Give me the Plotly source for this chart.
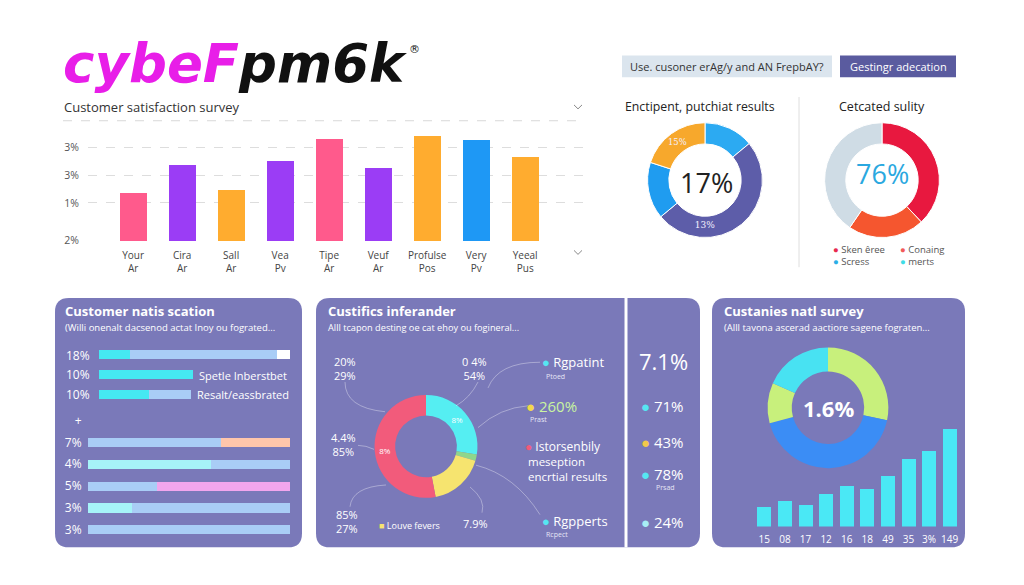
import plotly.graph_objects as go

W, H = 1024, 585


def fx(x):
    return x / W


def fy(y):
    return 1 - y / H


FONT = "Open Sans"

# ---------------- data ----------------
logo_pink = "cybeF"
logo_black = "pm6k"

survey_title = "Customer satisfaction survey"
survey_cats = ["Your", "Cira", "Sall", "Vea", "Tipe", "Veuf", "Profulse", "Very", "Yeeal"]
survey_sub = ["Ar", "Ar", "Ar", "Pv", "Ar", "Ar", "Pos", "Pv", "Pus"]
survey_vals = [48, 77, 51, 81, 103, 74, 106, 102, 85]
survey_colors = ["#ff5a8c", "#9b3df5", "#ffac2f", "#9b3df5", "#ff5a8c",
                 "#9b3df5", "#ffac2f", "#1e98f5", "#ffac2f"]
survey_ytick_vals = [0, 38, 66, 94]
survey_ytick_text = ["2%", "1%", "3%", "3%"]

button_left = "Use. cusoner erAg/y and AN FrepbAY?"
button_right = "Gestingr adecation"

donut1_title = "Enctipent, putchiat results"
donut1_vals = [14, 50, 16, 20]
donut1_colors = ["#2caaf2", "#5d5da9", "#1f9cf0", "#f7a82c"]
donut1_text = ["", "13%", "", "15%"]
donut1_center = "17%"

donut2_title = "Cetcated sulity"
donut2_vals = [38, 21.5, 40.5]
donut2_colors = ["#e8183f", "#f5562f", "#cfdce5"]
donut2_center = "76%"
donut2_legend = ["Sken êree", "Conaing", "Scress", "merts"]
donut2_legend_colors = ["#e8294f", "#f25a5a", "#2aaee6", "#3fdce6"]

p1_title = "Customer natis scation"
p1_sub = "(Willi onenalt dacsenod actat Inoy ou fograted..."
p1_top_rows = ["18%", "10%", "10%"]
p1_top_a = [16, 49, 26]
p1_top_b = [77, 0, 22]
p1_top_c = [7, 0, 0]
p1_top_notes = ["", "Spetle Inberstbet", "Resalt/eassbrated"]
p1_bot_rows = ["+", "7%", "4%", "5%", "3%", "3%"]
p1_bot_a = [66, 61, 34, 22, 100]
p1_bot_b = [34, 39, 66, 78, 0]
p1_bot_a_colors = ["#a9cdf6", "#a6f3f8", "#a9cdf6", "#a6f3f8", "#a9cdf6"]
p1_bot_b_colors = ["#ffc6ab", "#a9cdf6", "#f2a6ee", "#a9cdf6", "#a9cdf6"]

p2_title = "Custifics inferander"
p2_sub = "Alll tcapon desting oe cat ehoy ou fogineral..."
donut3_vals = [27.5, 2, 17.5, 53]
donut3_colors = ["#55eef2", "#8fd68c", "#f6e46f", "#f25b7b"]
donut3_text = ["8%", " ", " ", "8%"]
p2_callouts = ["20%<br>29%", "0 4%<br>54%", "4.4%<br>85%", "85%<br>27%", "7.9%"]
p2_small_legend = "Louve fevers"
p2_legend_labels = ["Rgpatint", "260%", "Istorsenbily", "Rgpperts"]
p2_legend_colors = ["#55e6f2", "#f2d94a", "#f25b7b", "#55e6f2"]
p2_legend_sub = ["Ptoed", "Prast", "", "Rcpect"]
p2_legend_extra = ["meseption", "encrtial results"]
p2_side_big = "7.1%"
p2_side_vals = ["71%", "43%", "78%", "24%"]
p2_side_colors = ["#55e6f2", "#f2c94a", "#55e6f2", "#a8eef5"]
p2_side_sub = ["", "", "Prsad", ""]

p3_title = "Custanies natl survey"
p3_sub = "(Alll tavona ascerad aactiore sagene fograten..."
donut4_vals = [28.3, 42.5, 10.8, 18.3]
donut4_colors = ["#c8f07c", "#3b8df5", "#c8f07c", "#48e2f2"]
donut4_center = "1.6%"
p3_bar_labels = ["15", "08", "17", "12", "16", "18", "49", "35", "3%", "149"]
p3_bar_vals = [20, 26, 22, 33, 41, 38, 52, 69, 77, 99]

PANEL = "#7a79b9"

# ---------------- figure ----------------
fig = go.Figure()

# top bar chart
fig.add_trace(go.Bar(
    x=survey_cats, y=survey_vals, marker=dict(color=survey_colors, line=dict(width=0)),
    width=0.55, xaxis="x", yaxis="y", hoverinfo="skip"))

# panel 1 top rows
top_ids = ["t0", "t1", "t2"]
for vals, col in [(p1_top_a, "#45e8f2"), (p1_top_b, "#a9cdf6"), (p1_top_c, "#ffffff")]:
    fig.add_trace(go.Bar(x=vals, y=top_ids, orientation="h", width=0.45,
                         marker=dict(color=col, line=dict(width=0)),
                         xaxis="x2", yaxis="y2", hoverinfo="skip"))

# panel 1 bottom rows
bot_ids = ["b0", "b1", "b2", "b3", "b4", "b5"]
fig.add_trace(go.Bar(x=p1_bot_a, y=bot_ids[1:], orientation="h", width=0.42,
                     marker=dict(color=p1_bot_a_colors, line=dict(width=0)),
                     xaxis="x3", yaxis="y3", hoverinfo="skip"))
fig.add_trace(go.Bar(x=p1_bot_b, y=bot_ids[1:], orientation="h", width=0.42,
                     marker=dict(color=p1_bot_b_colors, line=dict(width=0)),
                     xaxis="x3", yaxis="y3", hoverinfo="skip"))

# panel 3 bars
fig.add_trace(go.Bar(x=p3_bar_labels, y=p3_bar_vals, width=0.68,
                     marker=dict(color="#4ae8f5", line=dict(width=0)),
                     xaxis="x4", yaxis="y4", hoverinfo="skip"))


def dom(cx, cy, r):
    return dict(x=[fx(cx - r), fx(cx + r)], y=[fy(cy + r), fy(cy - r)])


fig.add_trace(go.Pie(values=donut1_vals, marker=dict(colors=donut1_colors, line=dict(color="white", width=1)),
                     hole=0.63, sort=False, direction="clockwise", rotation=0,
                     text=donut1_text, textinfo="text", textposition="inside",
                     insidetextorientation="horizontal",
                     textfont=dict(size=9, color="#f4f0ff", family="DejaVu Serif"),
                     domain=dom(705, 182, 58), hoverinfo="skip", showlegend=False))
fig.add_trace(go.Pie(values=donut2_vals, marker=dict(colors=donut2_colors, line=dict(color="white", width=1)),
                     hole=0.63, sort=False, direction="clockwise", rotation=0,
                     textinfo="none", domain=dom(882, 182, 58), hoverinfo="skip", showlegend=False))
fig.add_trace(go.Pie(values=donut3_vals, marker=dict(colors=donut3_colors, line=dict(width=0)),
                     hole=0.6, sort=False, direction="clockwise", rotation=0,
                     text=donut3_text, textinfo="text", textposition="inside",
                     insidetextorientation="horizontal",
                     textfont=dict(size=8, color="#ffffff", family=FONT),
                     domain=dom(426, 451, 52), hoverinfo="skip", showlegend=False))
fig.add_trace(go.Pie(values=donut4_vals, marker=dict(colors=donut4_colors, line=dict(width=0)),
                     hole=0.6, sort=False, direction="clockwise", rotation=0,
                     textinfo="none", domain=dom(828, 412, 61), hoverinfo="skip", showlegend=False))

# ---------------- shapes ----------------
shapes = []


def rrect(x0, y0, x1, y1, r, color):
    rx, ry = r / W, r / H
    X0, X1, Yt, Yb = fx(x0), fx(x1), fy(y0), fy(y1)
    path = (f"M {X0+rx},{Yt} L {X1-rx},{Yt} Q {X1},{Yt} {X1},{Yt-ry} "
            f"L {X1},{Yb+ry} Q {X1},{Yb} {X1-rx},{Yb} L {X0+rx},{Yb} Q {X0},{Yb} {X0},{Yb+ry} "
            f"L {X0},{Yt-ry} Q {X0},{Yt} {X0+rx},{Yt} Z")
    shapes.append(dict(type="path", path=path, xref="paper", yref="paper",
                       fillcolor=color, line=dict(width=0), layer="below"))


def rect(x0, y0, x1, y1, color):
    shapes.append(dict(type="rect", xref="paper", yref="paper", x0=fx(x0), x1=fx(x1),
                       y0=fy(y1), y1=fy(y0), fillcolor=color, line=dict(width=0), layer="below"))


def line(x0, y0, x1, y1, color, width=1, dash="solid"):
    shapes.append(dict(type="line", xref="paper", yref="paper", x0=fx(x0), x1=fx(x1),
                       y0=fy(y0), y1=fy(y1), line=dict(color=color, width=width, dash=dash)))


def curve(pts, color="rgba(255,255,255,0.35)"):
    (ax, ay), (bx, by), (cx, cy) = pts
    shapes.append(dict(type="path", xref="paper", yref="paper",
                       path=f"M {fx(ax)},{fy(ay)} Q {fx(bx)},{fy(by)} {fx(cx)},{fy(cy)}",
                       line=dict(color=color, width=1)))


def chevron(x, y):
    shapes.append(dict(type="path", xref="paper", yref="paper",
                       path=f"M {fx(x-4)},{fy(y-2)} L {fx(x)},{fy(y+2)} L {fx(x+4)},{fy(y-2)}",
                       line=dict(color="#888", width=1)))


rrect(55, 301, 302, 553, 14, PANEL)
rrect(316, 301, 700, 553, 14, PANEL)
rrect(712, 301, 965, 553, 14, PANEL)
line(626, 301, 626, 553, "white", 3)

rect(622, 56, 832, 78, "#dbe5ee")
rect(840, 56, 956, 78, "#5a5b9f")
line(799, 98, 799, 270, "#dedede", 1)
line(63, 122, 585, 122, "#d8d8d8", 1, "dash")
chevron(578, 108)
chevron(578, 255)

curve([(345, 386), (345, 412), (385, 416)])
curve([(478, 386), (470, 402), (456, 410)])
curve([(540, 366), (498, 366), (488, 392)])
curve([(528, 410), (500, 412), (478, 432)])
curve([(358, 450), (366, 450), (374, 454)])
curve([(350, 512), (352, 492), (386, 490)])
curve([(470, 492), (486, 505), (482, 518)])
curve([(476, 470), (515, 480), (540, 520)])

# ---------------- annotations ----------------
anns = []


def ann(text, x, y, size, color, xanchor="left", family=FONT, yanchor="middle", **kw):
    anns.append(dict(text=text, x=fx(x), y=fy(y), xref="paper", yref="paper",
                     xanchor=xanchor, yanchor=yanchor, showarrow=False, borderpad=0,
                     font=dict(size=size, color=color, family=family), **kw))


def dot(color, label):
    return f"<span style='color:{color}'>●</span> {label}"


ann(f"<b><i><span style='color:#e81ee8'>{logo_pink}</span>{logo_black}</i></b>",
    62, 64, 53, "#111111", family="DejaVu Sans")
ann("®", 414, 50, 11, "#111111", xanchor="center", family="DejaVu Sans")
ann(survey_title, 63, 108, 13, "#333333")
ann(button_left, 727, 67, 11, "#333333", xanchor="center")
ann(button_right, 898, 67, 11, "#ffffff", xanchor="center")
ann(donut1_title, 700, 108, 12.3, "#222222", xanchor="center")
ann(donut2_title, 882, 108, 12.5, "#222222", xanchor="center")
ann(donut1_center, 706, 184, 27, "#222222", xanchor="center")
ann(donut2_center, 882, 175, 27, "#2aa8e0", xanchor="center")
for i, (lab, col) in enumerate(zip(donut2_legend, donut2_legend_colors)):
    ann(dot(col, lab), 832 + 67 * (i % 2), 252 + 12 * (i // 2), 9.5, "#555555")

ann(f"<b>{p1_title}</b>", 64, 314, 13, "#ffffff")
ann(p1_sub, 64, 331, 9.5, "#ffffff")
for i, note in enumerate(p1_top_notes):
    if note:
        ann(note, 0, 0, 11, "#ffffff")
        anns[-1].update(xref="x2", yref="y2", x=p1_top_a[i] + p1_top_b[i] + 3, y=i)

ann(f"<b>{p2_title}</b>", 327, 314, 13, "#ffffff")
ann(p2_sub, 327, 331, 9.2, "#ffffff")
callout_pos = [(345, 372), (474, 372), (343, 449), (347, 527), (475, 529)]
for t, (x, y) in zip(p2_callouts, callout_pos):
    ann(t, x, y, 11, "#ffffff", xanchor="center")
ann(f"<span style='color:#f6e46f'>■</span> {p2_small_legend}", 378, 531, 9, "#ffffff")
leg_pos = [(541, 366), (525, 410), (524, 451), (541, 526)]
leg_txt_col = ["#ffffff", "#c9f5a0", "#ffffff", "#ffffff"]
leg_size = [13, 15, 12, 13]
for lab, col, tc, sz, sub, (x, y) in zip(p2_legend_labels, p2_legend_colors, leg_txt_col,
                                        leg_size, p2_legend_sub, leg_pos):
    ann(dot(col, lab), x, y, sz, tc)
    if sub:
        ann(sub, x + 4, y + 14, 7, "#e6e6f5")
ann(p2_legend_extra[0], 527, 466, 11.5, "#ffffff")
ann(p2_legend_extra[1], 527, 481, 11.5, "#ffffff")

ann(p2_side_big, 663, 365, 22, "#ffffff", xanchor="center")
side_y = [410, 447, 479, 527]
for v, col, sub, y in zip(p2_side_vals, p2_side_colors, p2_side_sub, side_y):
    ann(dot(col, v), 640, y, 15, "#ffffff")
    if sub:
        ann(sub, 655, y + 14, 7, "#e6e6f5")

ann(f"<b>{p3_title}</b>", 723, 314, 13, "#ffffff")
ann(p3_sub, 723, 331, 9.5, "#ffffff")
ann(f"<b>{donut4_center}</b>", 828, 412, 22, "#ffffff", xanchor="center")

# ---------------- layout ----------------
hidden = dict(showgrid=False, zeroline=False, showline=False, showticklabels=False, fixedrange=True)

fig.update_layout(
    width=W, height=H, margin=dict(l=0, r=0, t=0, b=0),
    paper_bgcolor="white", plot_bgcolor="rgba(0,0,0,0)",
    showlegend=False, barmode="stack", bargap=0,
    font=dict(family=FONT),
    shapes=shapes, annotations=anns,
    xaxis=dict(domain=[fx(88), fx(585)], anchor="y", type="category",
               range=[-0.92, 9.22], tickvals=survey_cats,
               ticktext=[f"{c}<br>{s}" for c, s in zip(survey_cats, survey_sub)],
               tickfont=dict(size=10, color="#444444"), showgrid=False, zeroline=False,
               showline=False, ticks="outside", ticklen=5, tickcolor="rgba(0,0,0,0)",
               fixedrange=True),
    yaxis=dict(domain=[fy(244), fy(128)], anchor="x", range=[-1, 115],
               tickvals=survey_ytick_vals, ticktext=survey_ytick_text,
               tickfont=dict(size=10.5, color="#555555"), showgrid=True,
               gridcolor="#dddddd", griddash="dash", gridwidth=1, zeroline=False,
               showline=False, ticks="outside", ticklen=6, tickcolor="rgba(0,0,0,0)",
               fixedrange=True),
    xaxis2=dict(domain=[fx(99), fx(290)], anchor="y2", range=[0, 100], **hidden),
    yaxis2=dict(domain=[fy(409), fy(349)], anchor="x2", type="category",
                categoryorder="array", categoryarray=top_ids, range=[2.5, -0.5],
                tickvals=top_ids, ticktext=p1_top_rows,
                tickfont=dict(size=12, color="#ffffff"), showgrid=False, zeroline=False,
                showline=False, ticks="outside", ticklen=6, tickcolor="rgba(0,0,0,0)",
                fixedrange=True),
    xaxis3=dict(domain=[fx(88), fx(290)], anchor="y3", range=[0, 100], **hidden),
    yaxis3=dict(domain=[fy(546), fy(414)], anchor="x3", type="category",
                categoryorder="array", categoryarray=bot_ids, range=[5.5, -0.5],
                tickvals=bot_ids, ticktext=p1_bot_rows,
                tickfont=dict(size=12, color="#ffffff"), showgrid=False, zeroline=False,
                showline=False, ticks="outside", ticklen=3, tickcolor="rgba(0,0,0,0)",
                fixedrange=True),
    xaxis4=dict(domain=[fx(754), fx(960)], anchor="y4", type="category",
                range=[-0.5, 9.5], tickfont=dict(size=10, color="#ffffff"),
                showgrid=False, zeroline=False, showline=False, ticks="outside",
                ticklen=3, tickcolor="rgba(0,0,0,0)", fixedrange=True),
    yaxis4=dict(domain=[fy(532), fy(432)], anchor="x4", range=[0, 100], **hidden),
)

fig.write_html(
    "out.html",
    config={"displayModeBar": False},
    post_script=("document.body.style.margin='0';document.body.style.overflow='hidden';"
                 "document.documentElement.style.overflow='hidden';"),
)
